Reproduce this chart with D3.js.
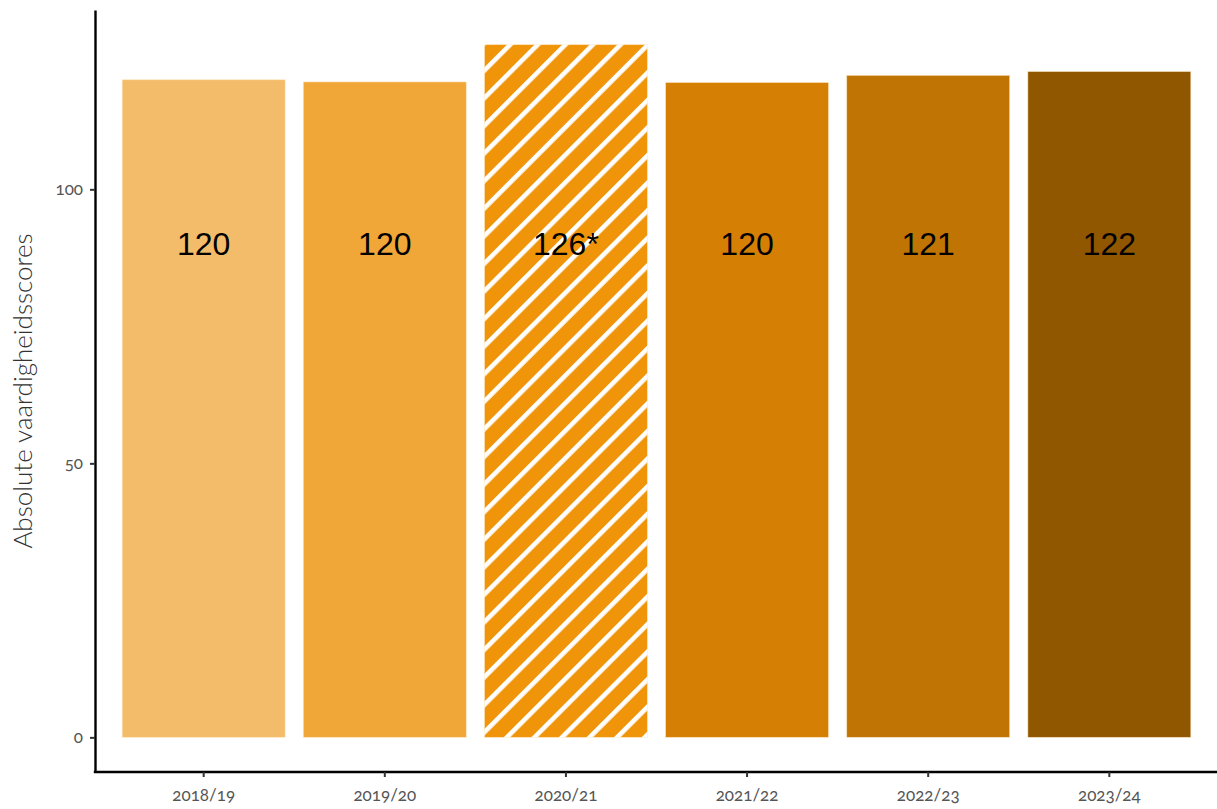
<!DOCTYPE html>
<html>
<head>
<meta charset="utf-8">
<script src="https://cdn.jsdelivr.net/npm/d3@7"></script>
<style>
  body { margin: 0; background: #fff; }
  svg { display: block; }
  .tick text { font-family: Lato, "Open Sans", sans-serif; font-variant-numeric: oldstyle-nums; font-feature-settings: "onum"; }
</style>
</head>
<body>
<div id="chart"></div>
<script>
const categories = ["2018/19", "2019/20", "2020/21", "2021/22", "2022/23", "2023/24"];
const values = [120.0, 119.6, 126.4, 119.5, 120.8, 121.5];
const valueLabels = ["120", "120", "126*", "120", "121", "122"];
const hatched = [false, false, true, false, false, false];
const colors = ["#F3BC6A", "#F1A638", "#F0940A", "#D67F05", "#C07403", "#915700"];
const yTicks = [0, 50, 100];
const yTitle = "Absolute vaardigheidsscores";
const labelValue = 90;

const W = 1217, H = 809;
const margin = { top: 10, right: -1, bottom: 37, left: 95 };

const svg = d3.select("#chart").append("svg").attr("width", W).attr("height", H);

const defs = svg.append("defs");
const pat = defs.append("pattern")
  .attr("id", "hatch")
  .attr("patternUnits", "userSpaceOnUse")
  .attr("width", 19.5).attr("height", 19.5)
  .attr("patternTransform", "rotate(45)");
pat.append("rect").attr("width", 19.5).attr("height", 19.5).attr("fill", colors[2]);
pat.append("rect").attr("x", 0).attr("y", 0).attr("width", 4.6).attr("height", 19.5).attr("fill", "#fff");

const maxV = d3.max(values);
const pad = maxV * 0.05;
const x = d3.scaleBand().domain(categories)
  .range([margin.left, W - margin.right])
  .paddingInner(0.1).paddingOuter(0.15);
const y = d3.scaleLinear().domain([-pad, maxV + pad])
  .range([H - margin.bottom, margin.top]);

const data = categories.map((c, i) => ({ c, v: values[i], label: valueLabels[i], hatch: hatched[i], color: colors[i] }));

svg.append("g").selectAll("rect").data(data).join("rect")
  .attr("x", d => x(d.c))
  .attr("y", d => y(d.v))
  .attr("width", x.bandwidth())
  .attr("height", d => y(0) - y(d.v))
  .attr("fill", d => d.hatch ? "url(#hatch)" : d.color)
  .attr("stroke", "rgba(255,235,200,0.7)")
  .attr("stroke-width", 0.8);

svg.append("g").selectAll("text").data(data).join("text")
  .attr("x", d => x(d.c) + x.bandwidth() / 2)
  .attr("y", y(labelValue))
  .attr("text-anchor", "middle")
  .attr("dominant-baseline", "central")
  .attr("font-family", "'Liberation Sans', Arial, sans-serif")
  .attr("font-size", 32)
  .attr("fill", "#000")
  .text(d => d.label);

// Y axis
const yAxis = svg.append("g")
  .attr("transform", `translate(${margin.left},0)`)
  .call(d3.axisLeft(y).tickValues(yTicks).tickSize(5).tickSizeOuter(0).tickPadding(7));
yAxis.select(".domain").attr("stroke", "#000").attr("stroke-width", 2.4);
yAxis.selectAll(".tick line").attr("stroke", "#333").attr("stroke-width", 2);
yAxis.selectAll(".tick text").attr("font-size", 17).attr("fill", "#555");

// X axis
const xAxis = svg.append("g")
  .attr("transform", `translate(0,${H - margin.bottom})`)
  .call(d3.axisBottom(x).tickSize(5).tickSizeOuter(0).tickPadding(12));
xAxis.select(".domain").attr("stroke", "#000").attr("stroke-width", 2.4)
  .attr("d", `M${margin.left - 1.2},0H${W}`);
xAxis.selectAll(".tick line").attr("stroke", "#333").attr("stroke-width", 2);
xAxis.selectAll(".tick text").attr("font-size", 17).attr("fill", "#555");

// Y title
svg.append("text")
  .attr("transform", `translate(32,${(margin.top + H - margin.bottom) / 2}) rotate(-90)`)
  .attr("text-anchor", "middle")
  .attr("font-family", "Lato, 'Open Sans', sans-serif")
  .attr("font-weight", 300)
  .attr("font-size", 26)
  .attr("fill", "#333")
  .text(yTitle);
</script>
</body>
</html>
